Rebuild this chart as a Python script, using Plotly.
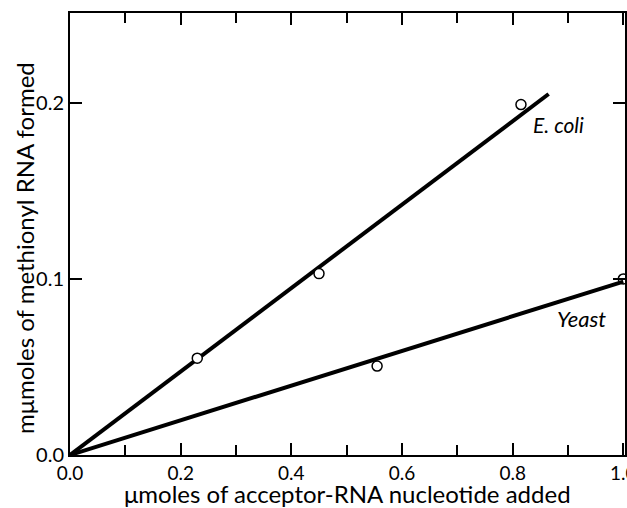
import plotly.graph_objects as go

# Data
ecoli_x = [0.23, 0.45, 0.815]
ecoli_y = [0.055, 0.103, 0.199]
ecoli_fit_x = [0.0, 0.865]
ecoli_fit_y = [0.0, 0.205]

yeast_x = [0.555, 1.0]
yeast_y = [0.0505, 0.100]
yeast_fit_x = [0.0, 1.0]
yeast_fit_y = [0.0, 0.0985]

FONT = "Lato"

fig = go.Figure()
fig.add_trace(go.Scatter(x=ecoli_fit_x, y=ecoli_fit_y, mode="lines",
                         line=dict(color="black", width=4), showlegend=False, cliponaxis=False))
fig.add_trace(go.Scatter(x=yeast_fit_x, y=yeast_fit_y, mode="lines",
                         line=dict(color="black", width=4), showlegend=False, cliponaxis=False))
fig.add_trace(go.Scatter(x=ecoli_x, y=ecoli_y, mode="markers",
                         marker=dict(symbol="circle", size=10, color="white",
                                     line=dict(color="black", width=1.5)),
                         showlegend=False, cliponaxis=False))
fig.add_trace(go.Scatter(x=yeast_x, y=yeast_y, mode="markers",
                         marker=dict(symbol="circle-open", size=10, color="black",
                                     line=dict(color="black", width=1.5)),
                         showlegend=False, cliponaxis=False))

fig.add_annotation(x=0.833, y=0.1875, text="<i>E. coli</i>", showarrow=False,
                   xanchor="left", yanchor="middle",
                   font=dict(family=FONT, size=21, color="black"))
fig.add_annotation(x=0.877, y=0.0778, text="<i>Yeast</i>", showarrow=False,
                   xanchor="left", yanchor="middle",
                   font=dict(family=FONT, size=22, color="black"))

# axis titles as annotations for exact placement
fig.add_annotation(xref="paper", yref="paper", x=-0.083, y=0.468,
                   text="mμmoles of methionyl RNA formed", textangle=-90,
                   showarrow=False, xanchor="center", yanchor="middle",
                   font=dict(family=FONT, size=24, color="black"))
fig.add_annotation(xref="paper", yref="paper", x=0.5, y=-0.086,
                   text="μmoles of acceptor-RNA nucleotide added",
                   showarrow=False, xanchor="center", yanchor="middle",
                   font=dict(family=FONT, size=24, color="black"))

fig.update_layout(
    width=627, height=508,
    margin=dict(l=70, r=2, t=13, b=53, autoexpand=False),
    plot_bgcolor="white", paper_bgcolor="white",
    font=dict(family=FONT, size=20, color="black"),
    xaxis=dict(range=[0, 1.003], tickmode="linear", tick0=0, dtick=0.2, tickformat=".1f",
               tickfont=dict(size=19),
               ticks="inside", ticklen=12, tickwidth=1.5, tickcolor="black",
               minor=dict(tickmode="linear", tick0=0, dtick=0.1, ticks="inside", ticklen=10,
                          tickwidth=1.5, tickcolor="black"),
               ticklabeloverflow="allow", ticklabelstandoff=0, automargin=False,
               showline=True, linecolor="black", linewidth=2, mirror="ticks",
               showgrid=False, zeroline=False),
    yaxis=dict(range=[0, 0.251], tickmode="linear", tick0=0, dtick=0.1, tickformat=".1f",
               ticks="inside", ticklen=12, tickwidth=1.5, tickcolor="black",
               automargin=False,
               showline=True, linecolor="black", linewidth=2, mirror="ticks",
               showgrid=False, zeroline=False),
)

fig.write_html("out.html")
